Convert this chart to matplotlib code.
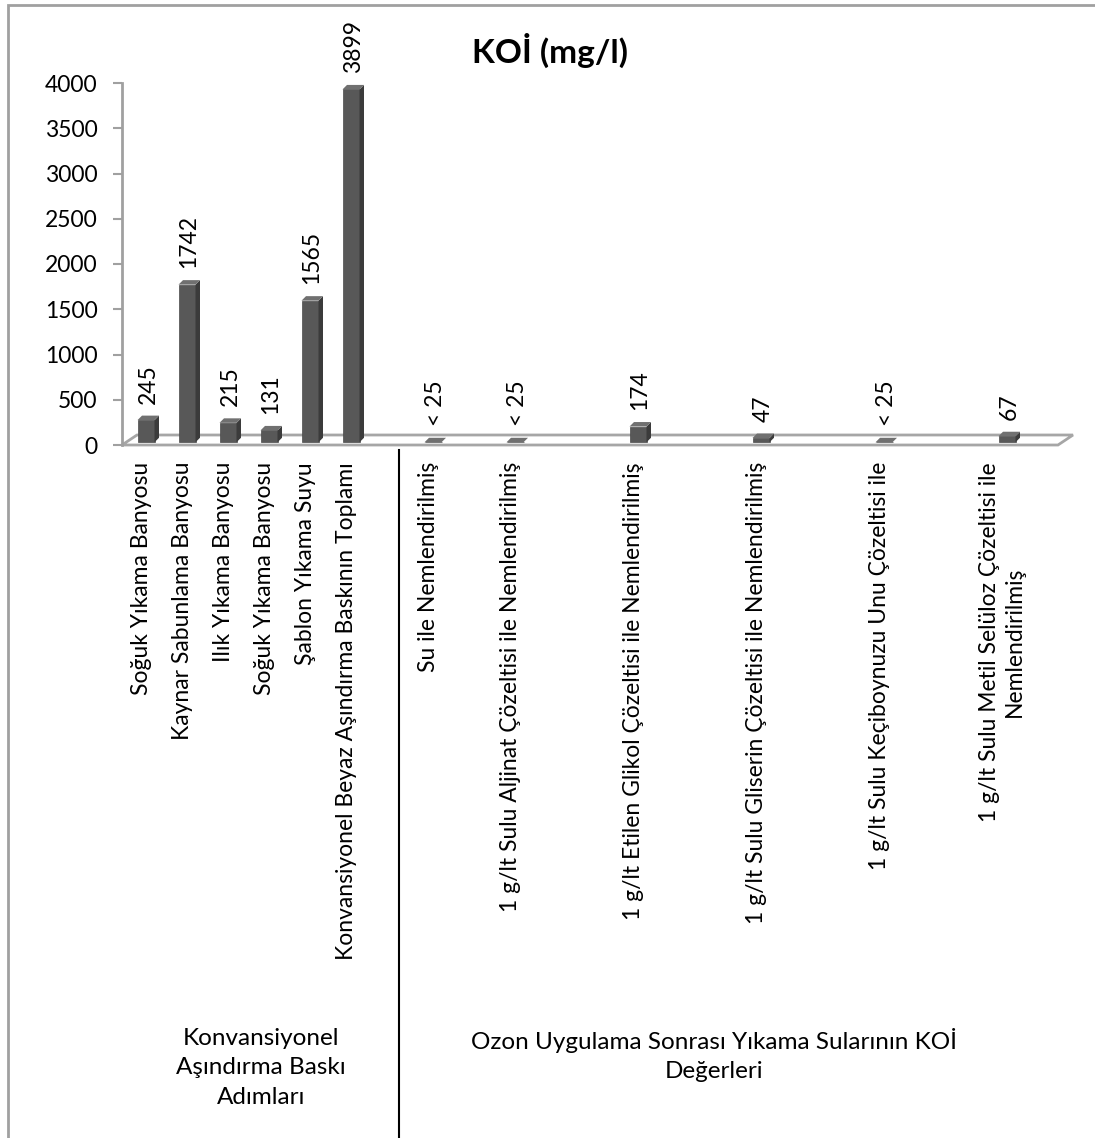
import matplotlib
matplotlib.use('Agg')
import matplotlib.pyplot as plt
from matplotlib.patches import Polygon, Rectangle
from matplotlib.lines import Line2D

plt.rcParams['font.family'] = ['Lato', 'DejaVu Sans']

# kategoriler ("" olanlar gruplar arasındaki boş sütunlar)
kategoriler = [
    "Soğuk Yıkama Banyosu",
    "Kaynar Sabunlama Banyosu",
    "Ilık Yıkama Banyosu",
    "Soğuk Yıkama Banyosu",
    "Şablon Yıkama Suyu",
    "Konvansiyonel Beyaz Aşındırma Baskının Toplamı",
    "",
    "Su ile Nemlendirilmiş",
    "",
    "1 g/lt Sulu Aljinat Çözeltisi ile Nemlendirilmiş",
    "", "",
    "1 g/lt Etilen Glikol Çözeltisi ile Nemlendirilmiş",
    "", "",
    "1 g/lt Sulu Gliserin Çözeltisi ile Nemlendirilmiş",
    "", "",
    "1 g/lt Sulu Keçiboynuzu Unu Çözeltisi ile",
    "", "",
    "1 g/lt Sulu Metil Selüloz Çözeltisi ile\nNemlendirilmiş",
]
koi = [245, 1742, 215, 131, 1565, 3899, None, 0, None, 0, None, None,
       174, None, None, 47, None, None, 0, None, None, 67]
koi_etiket = ["245", "1742", "215", "131", "1565", "3899", "", "< 25", "",
              "< 25", "", "", "174", "", "", "47", "", "", "< 25", "", "", "67"]
gruplar = ["Konvansiyonel\nAşındırma Baskı\nAdımları",
           "Ozon Uygulama Sonrası Yıkama Sularının KOİ\nDeğerleri"]
y_ticks = list(range(0, 4001, 500))

W, H = 1095, 1138
fig = plt.figure(figsize=(W / 100, H / 100), dpi=100)
fig.patch.set_facecolor('white')

# eksen alanı (piksel)
ax_l, ax_r, ax_b, ax_t = 122, 1080, 445, 83
ax = fig.add_axes([ax_l / W, 1 - ax_b / H, (ax_r - ax_l) / W, (ax_b - ax_t) / H])
step = 41.0
xmin = (ax_l - 146) / step
xmax = xmin + (ax_r - ax_l) / step
ax.set_xlim(xmin, xmax)
ax.set_ylim(0, 4000)
px_y = (ax_b - ax_t) / 4000.0

# taban (3B görünüm)
dx, dy = 15 / step, 10 / px_y
x_end = (1058 - 146) / step
taban = Polygon([(xmin, 0), (x_end, 0), (x_end + dx, dy), (xmin + dx, dy)],
                closed=True, facecolor='white', edgecolor='#a6a6a6', lw=2,
                zorder=1, clip_on=False)
ax.add_patch(taban)

# sütunlar
w = 17 / step
sx, sy = 4.5 / step, 4.5 / px_y
base = 30
xs = [i for i, v in enumerate(koi) if v is not None]
vs = [v for v in koi if v is not None]
ax.bar(xs, vs, width=w, bottom=base, color='#585858', zorder=3,
       edgecolor='#4a4a4a', lw=0.5)
for x, v in zip(xs, vs):
    x0, x1 = x - w / 2, x + w / 2
    t = base + v
    ax.add_patch(Polygon([(x1, base), (x1 + sx, base + sy), (x1 + sx, t + sy), (x1, t)],
                         facecolor='#3b3b3b', edgecolor='none', zorder=3, clip_on=False))
    ax.add_patch(Polygon([(x0, t), (x1, t), (x1 + sx, t + sy), (x0 + sx, t + sy)],
                         facecolor='#707070', edgecolor='none', zorder=3, clip_on=False))

# değer etiketleri
for i, (v, lbl) in enumerate(zip(koi, koi_etiket)):
    if v is None:
        continue
    ax.annotate(lbl, (i + 0.05, base + v + sy), xytext=(0, 12),
                textcoords='offset pixels', rotation=90, ha='center', va='bottom',
                fontsize=16.5, annotation_clip=False)

# kategori etiketleri
for i, cat in enumerate(kategoriler):
    if not cat:
        continue
    ax.annotate(cat, (i - 0.12, 0), xytext=(0, -17), textcoords='offset pixels',
                rotation=90, ha='center', va='top', multialignment='center',
                fontsize=16.5, annotation_clip=False)

# eksen görünümü
for s in ['top', 'right', 'bottom']:
    ax.spines[s].set_visible(False)
ax.spines['left'].set_color('#a0a0a0')
ax.spines['left'].set_linewidth(2)
ax.set_xticks([])
ax.set_yticks(y_ticks)
ax.tick_params(axis='y', direction='out', length=6.5, width=1.5, color='#a0a0a0',
               labelsize=16.5, pad=11)
ax.patch.set_alpha(0)

# grup ayırıcı çizgi ve grup başlıkları
fig.add_artist(Line2D([399 / W, 399 / W], [1 - 450 / H, 0], color='black', lw=1.5))
fig.text(261 / W, 1 - 1028 / H, gruplar[0], ha='center', va='top',
         multialignment='center', fontsize=17.5, linespacing=1.5)
fig.text(714 / W, 1 - 1028 / H, gruplar[1], ha='center', va='top',
         multialignment='center', fontsize=17.5, linespacing=1.5)

# başlık
fig.text(550 / W, 1 - 50 / H, "KOİ (mg/l)", ha='center', va='center',
         fontsize=24, fontweight='bold')

# grafik alanı çerçevesi
fig.add_artist(Rectangle((8 / W, -0.1), 1.2, 1 - 5 / H + 0.1, transform=fig.transFigure,
                         fill=False, edgecolor='#a0a0a0', lw=2))

plt.savefig("out.png", dpi=100)
